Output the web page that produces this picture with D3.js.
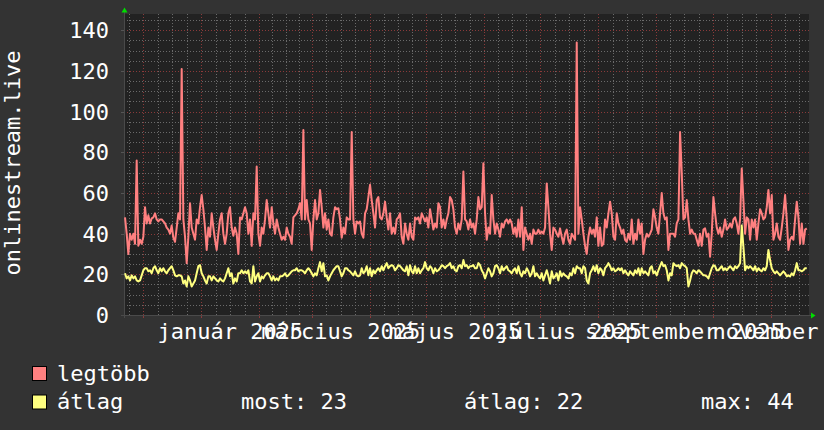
<!DOCTYPE html>
<html><head><meta charset="utf-8">
<script src="https://cdn.jsdelivr.net/npm/d3@7"></script>
<style>
html,body{margin:0;padding:0;background:#333333;}
svg{display:block;}
text{font-family:"DejaVu Sans Mono",monospace;fill:#ffffff;}
</style></head><body>
<svg id="c" width="824" height="430"></svg>
<script>
// ---------------- data ----------------
const seriesNames = ["legtöbb", "átlag"];
const seriesColors = ["#ff8080", "#ffff80"];
const yTitle = "onlinestream.live";
const firstSample = new Date(2024, 10, 21, 7, 0);
const stepHours = 21.36;
const timeStart = new Date(2024, 10, 20, 18, 0);
const timeEnd = new Date(2025, 10, 21, 12, 0);

const maxValues = [
48,40,30,40,37,40,35,76,34,37, 35,38.5,53,45,49,45,47.5,48,50,47, 46,47,47,46,45,43,42,40,44,38,
36,43,50,47,121,47,38.5,25.5,38.5,55, 43,40,37,47,45,53,59,52,43,32, 43,38.5,50,43,37,32,40,47,50,40,
35,40,50,53,43,39,43,40,30,48, 47,50,53,50,40,47,34,50,47,73, 40,34,43,40,47,56.5,50,43,53,45,
40,47,43,40,37,38.5,37,43,40,38.5, 35,48,49,50,52,55,47,91,47,56.5, 47,45,32,47,56.5,47,50,61.5,53,43,
50,42,47,40,39,48,53,52,52.5,47, 38,43,40,48,47,47,90,47,40,46, 45,46,
40,38,50,52,58,64,56.5,50,43,56.5, 58,48,47,50,55.7,48,42,50,40,43, 40,47,48,50,38.5,35,45,40,37,45,
38.5,37,48,47,48,45,50,48,46,48, 43,52,47,42,45,43,55,53,43,47, 42.6,47,50,58,56.5,52,43,40,45,42,
47,70.5,47,46,42,47,43,45,40,47, 58,52,53,74.6,50,37,43,40,59,47, 40,45,42,38.5,45,43,46,47,45,47,
45,40,43,38.5,47,38.5,53,32,43,40, 37,40,35,42,40,40,42,40,41,40, 43,64.7,53,40,32,43,42,40,38.5,42.6,
38.5,35,40,42,37,35,40,38.5,37,134, 40,53,47,40,34,30,38.5,43,
40,42,38.5,48,34,43,34,35,47,43, 50,55.7,50,38.5,37,50,45,43,40,42, 37,36,40,37,47,35,40,37,47,40,
45,30,37,40,38.5,40,42,52,48,43, 40,50,60,50,47,48,32,40,40,40, 38.5,45,47,90,70,47,48,56.5,47,40,
42,40,40,37,34,40,34,42,42.6,38.5, 40,28.7,40,58,50,43,40,43,38.5,42, 47,42,43,45,43,47,48,45,40,47,
72,56.5,40,48,47,37,47,43,47,37, 45,52,50,47,48,53,61.5,50,59,37, 40,45,38.5,37,43,50,59,47,32,37,
38.5,37,47,55.7,48,35,45,35,42,42.6
];

const avgValues = [
20.5,18,19,17,19.5,18,19,17,16.5,17, 19.5,22,23,23,21.5,22,20.5,23,24,22, 20.5,23,21.5,23,21.5,20.5,22,23,24,22,
19.5,19,19.5,19.5,19,15.5,17,14,19,17, 14,15.5,17,20.5,24,24.5,20.5,19,17,15.5, 19,19,17,19,18,17,16.5,18,17,16.5,
18,20.5,23,19,20.5,15.5,18,16.5,20.5,20.5, 22,20.5,21.5,20.5,22,16.5,15.5,24,16.5,19, 20.5,16.5,19,18,19.5,20.5,20.5,19,17,19,
17,18,17,19,19,19.5,20.5,19,19.5,20.5, 21.5,22,22,23,21.5,22,22,21.5,20.5,22, 23,22,20.5,19,20.5,19.5,23,26,21.5,25.5,
19,19.5,17,19,20.5,22,23,24,24,21.5, 19,20.5,23,23,22,21.5,20.5,19.5,21.5,19.5, 19,19.5,
23,20.5,21.5,24,19.5,23,19,22,20.5,22, 23,21.5,24,22,24,25.5,23,24,24.5,24, 22,23,24.5,24,23,22,21.5,24,19.5,24.5,
21.5,20.5,24,20.5,23,20.5,22,23,26,23, 22,24,23,20.5,23,21.5,22,23,24.5,24, 23,24,24.5,25.5,23,24,22,21.5,24,24.5,
23,27,24,24.5,23,24,24,24.5,23,23, 25.5,24.5,22,20.5,18,20.5,23,21.5,19,20.5, 24,24.5,23,20.5,24,22,23,24,22,21.5,
20.5,22,23,20.5,24,20.5,19,21.5,20.5,23, 21.5,19,20.5,24,19,20.5,19,18,20.5,17, 19.5,22,19,15.5,21.5,18,19,20.5,17,21.5,
19,20.5,19.5,19,18,20.5,19.5,23,20.5,24, 23,23,20.5,24,23,17,15.5,20.5,
22,24,21.5,24.5,20.5,23,22,19.5,23,24, 25.5,24,22,23,21.5,22,23,22,23,20.5, 22,20.5,19.5,21.5,20.5,19.5,22,20.5,23,19.5,
23,20.5,21.5,20.5,19.5,23,24,20.5,21.5,19.5, 22,24,26,24,24.5,22,17,20.5,19.5,25.5, 24.5,24,24.5,23,25.5,24.5,24,23,14,17,
20.5,22,21.5,20.5,22,21.5,20.5,19.5,19.5,19, 18,20.5,23,24.5,24,22,22,23,24,22, 23,22,23,24,23,22,24,23,24,25.5,
44,33.5,22,24,23,24,23,22,24,21.5, 23,22,21.5,23,22,24,32,27,23,21.5, 20.5,21.5,20.5,19.5,20.5,21.5,20.5,19,19.5,19,
20.5,19.5,22,25.5,22,22,21.5,22,23,23
];

const yTicks = [0, 20, 40, 60, 80, 100, 120, 140];
const yMinorStep = 5;
const yTop = 148;
const labelMonths = [new Date(2025,0,1), new Date(2025,2,1), new Date(2025,4,1), new Date(2025,6,1), new Date(2025,8,1), new Date(2025,10,1)];
const labelTexts = ["január 2025", "március 2025", "május 2025", "július 2025", "szeptember 2025", "november 2025"];
const statNames = ["most:", "átlag:", "max:"];
const statValues = [23, 22, 44];

// ---------------- drawing ----------------
const W = 824, H = 430;
const L = 124, R = 809, T = 14, B = 315;
const svg = d3.select("#c");
const FS = 22;

svg.append("rect").attr("width", W).attr("height", H).attr("fill", "#333333");
svg.append("rect").attr("x", L).attr("y", T).attr("width", R - L).attr("height", B - T).attr("fill", "#222222");

const x = d3.scaleTime().domain([timeStart, timeEnd]).range([L, R]);
const y = d3.scaleLinear().domain([0, yTop]).range([B, T]);

const grid = svg.append("g").attr("shape-rendering", "crispEdges");
const px = v => Math.round(v) + 0.5;
const minorCol = "#6a6a6a", majorCol = "#8a3a3a", dash = "1,2";

// horizontal minor
d3.range(yMinorStep, yTop, yMinorStep).filter(v => v % 20 !== 0).forEach(v => {
  grid.append("line").attr("x1", L).attr("x2", R).attr("y1", px(y(v))).attr("y2", px(y(v)))
    .attr("stroke", minorCol).attr("stroke-dasharray", dash);
});
// vertical minor (quarter months) and major (months)
const months = d3.timeMonth.range(d3.timeMonth.floor(timeStart), timeEnd);
months.forEach(m => {
  const next = d3.timeMonth.offset(m, 1);
  for (let k = 1; k <= 3; k++) {
    const t = new Date(m.getTime() + (next - m) * k / 4);
    if (t > timeStart && t < timeEnd) {
      grid.append("line").attr("x1", px(x(t))).attr("x2", px(x(t))).attr("y1", T).attr("y2", B)
        .attr("stroke", minorCol).attr("stroke-dasharray", dash);
    }
  }
});
// horizontal major
yTicks.filter(v => v > 0).forEach(v => {
  grid.append("line").attr("x1", L).attr("x2", R).attr("y1", px(y(v))).attr("y2", px(y(v)))
    .attr("stroke", majorCol).attr("stroke-dasharray", dash);
});
months.filter(m => m > timeStart).forEach(m => {
  grid.append("line").attr("x1", px(x(m))).attr("x2", px(x(m))).attr("y1", T).attr("y2", B)
    .attr("stroke", majorCol).attr("stroke-dasharray", dash);
  grid.append("line").attr("x1", px(x(m))).attr("x2", px(x(m))).attr("y1", B).attr("y2", B + 3)
    .attr("stroke", majorCol);
});

// y tick labels
yTicks.forEach(v => {
  svg.append("text").attr("x", 109).attr("y", y(v) + 8).attr("text-anchor", "end")
    .attr("font-size", FS).text(v);
  grid.append("line").attr("x1", L - 3).attr("x2", L).attr("y1", px(y(v))).attr("y2", px(y(v)))
    .attr("stroke", "#555555");
});

// x labels, centred mid-month
labelMonths.forEach((m, i) => {
  const mid = new Date((m.getTime() + d3.timeMonth.offset(m, 1).getTime()) / 2);
  svg.append("text").attr("x", x(mid)).attr("y", 339).attr("text-anchor", "middle")
    .attr("font-size", FS).text(labelTexts[i]);
});

// y title
svg.append("text").attr("transform", "translate(20,163) rotate(-90)").attr("text-anchor", "middle")
  .attr("font-size", FS).text(yTitle);

// lines
const tAt = i => new Date(firstSample.getTime() + i * stepHours * 3600e3);
const line = d3.line().x((d, i) => x(tAt(i))).y(d => y(d));
[maxValues, avgValues].forEach((vals, s) => {
  svg.append("path").datum(vals).attr("d", line).attr("fill", "none")
    .attr("stroke", seriesColors[s]).attr("stroke-width", 2).attr("stroke-linejoin", "round");
});

// axes
grid.append("line").attr("x1", L - 3).attr("x2", R + 2).attr("y1", px(B)).attr("y2", px(B)).attr("stroke", "#4a4a4a");
grid.append("line").attr("x1", px(L)).attr("x2", px(L)).attr("y1", T - 2).attr("y2", B + 3).attr("stroke", "#4a4a4a");
svg.append("path").attr("d", d3.path ? `M${L - 2.5},${T - 1.5} L${L + 3.5},${T - 1.5} L${L + 0.5},${T - 6.5} Z` : "")
  .attr("fill", "#00dd00");
svg.append("path").attr("d", `M${R + 2},${B - 2.5} L${R + 2},${B + 3.5} L${R + 6.5},${B + 0.5} Z`)
  .attr("fill", "#00dd00");

// legend
const legY = [380.5, 409];
seriesNames.forEach((n, i) => {
  svg.append("rect").attr("x", 32.5).attr("y", legY[i] - 14).attr("width", 14).attr("height", 14)
    .attr("fill", seriesColors[i]).attr("stroke", "#000000").attr("stroke-width", 1);
  svg.append("text").attr("x", 57).attr("y", legY[i]).attr("font-size", FS).text(n);
});
const statX = [241, 464, 701];
statNames.forEach((n, i) => {
  svg.append("text").attr("x", statX[i]).attr("y", legY[1]).attr("font-size", FS)
    .attr("xml:space", "preserve").text(n + " " + statValues[i]);
});
</script>
</body></html>
